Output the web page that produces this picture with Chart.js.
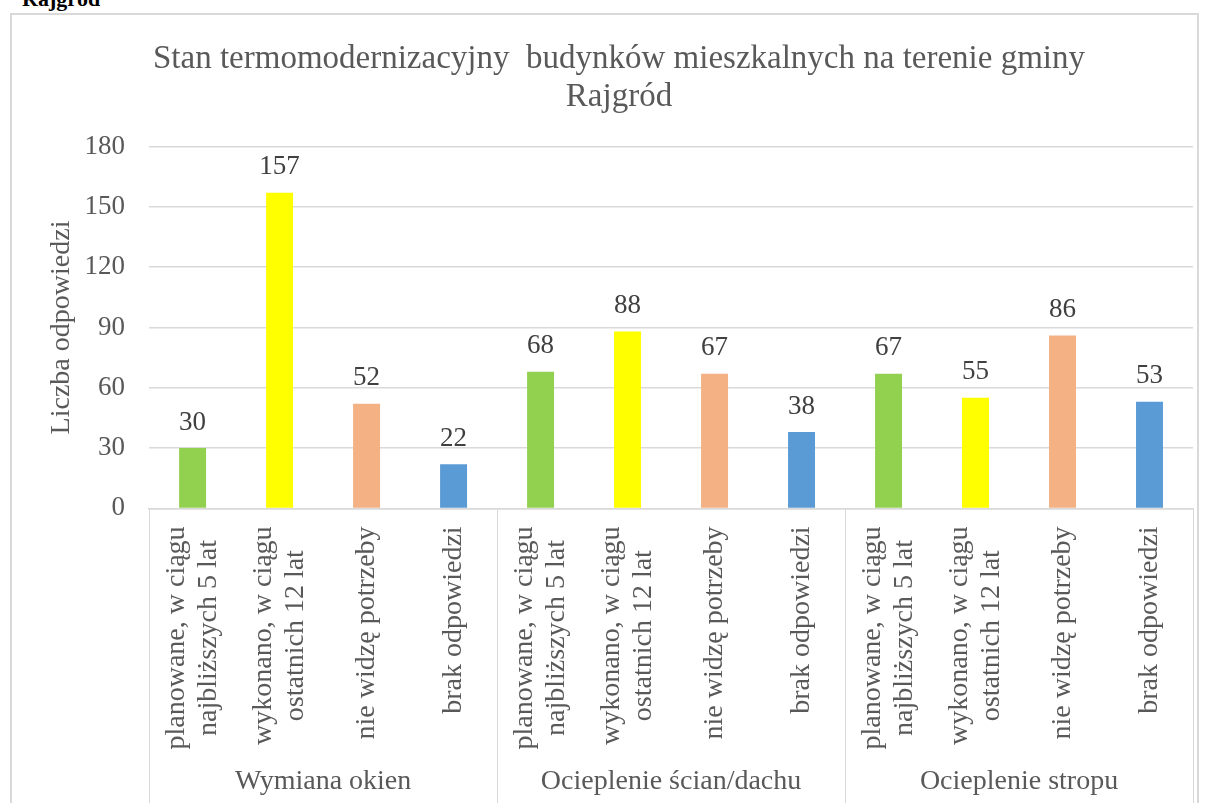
<!DOCTYPE html>
<html>
<head>
<meta charset="utf-8">
<script src="https://cdn.jsdelivr.net/npm/chart.js@4"></script>
<style>
  html, body { margin: 0; padding: 0; background: #fff; overflow: hidden; }
  body { width: 1207px; height: 803px; position: relative; font-family: "Liberation Serif", serif; }
  #head { position: absolute; left: 22px; top: -14px; font: bold 22px "Liberation Serif", serif; color: #000; }
  #preload { position: absolute; left: -2000px; top: 0; font: 20px "Liberation Serif", serif; }
  #frame { position: absolute; left: 10px; top: 13px; width: 1189px; height: 800px; border: 2px solid #d9d9d9; box-sizing: border-box; }
  #wrap { position: absolute; left: 0; top: 0; width: 1185px; height: 790px; }
</style>
</head>
<body>
<div id="head">Rajgród</div>
<div id="preload">Liczba odpowiedzi ąęż 0123456789</div>
<div id="frame"><div id="wrap"><canvas id="graph"></canvas></div></div>
<script>
const groups = ['Wymiana okien', 'Ocieplenie ścian/dachu', 'Ocieplenie stropu']
const answers = [
    ['planowane, w ciągu', 'najbliższych 5 lat'],
    ['wykonano, w ciągu', 'ostatnich 12 lat'],
    'nie widzę potrzeby',
    'brak odpowiedzi'
]
const values = [30, 157, 52, 22, 68, 88, 67, 38, 67, 55, 86, 53]
const answerColors = ['#92d050', '#ffff00', '#f4b183', '#5b9bd5']
const yTicks = [0, 30, 60, 90, 120, 150, 180]

const serif = '"Liberation Serif", serif'
Chart.defaults.font.family = serif
const labels = groups.flatMap(() => answers)
const colors = groups.flatMap(() => answerColors)

// value above every bar
const valueLabels = {
    id: 'valueLabels',
    afterDatasetsDraw(chart) {
        const ctx = chart.ctx
        const meta = chart.getDatasetMeta(0)
        ctx.save()
        ctx.font = '27px ' + serif
        ctx.fillStyle = '#404040'
        ctx.textAlign = 'center'
        ctx.textBaseline = 'bottom'
        meta.data.forEach((bar, i) => {
            ctx.fillText(values[i], bar.x, bar.y - 12)
        })
        ctx.restore()
    }
}

// vertical answer labels, lines centred on each other, block hanging from the axis
const answerLabels = {
    id: 'answerLabels',
    afterDraw(chart) {
        const ctx = chart.ctx
        const x = chart.scales.x
        ctx.save()
        ctx.font = '28px ' + serif
        ctx.fillStyle = '#595959'
        ctx.textAlign = 'center'
        ctx.textBaseline = 'middle'
        labels.forEach((label, i) => {
            const lines = [].concat(label)
            const block = Math.max(...lines.map(l => ctx.measureText(l).width))
            ctx.save()
            ctx.translate(x.getPixelForTick(i), x.top + 18 + block / 2)
            ctx.rotate(-Math.PI / 2)
            lines.forEach((line, k) => ctx.fillText(line, 0, (k - (lines.length - 1) / 2) * 32))
            ctx.restore()
        })
        ctx.restore()
    }
}

// separators between the groups, under the plot
const groupLines = {
    id: 'groupLines',
    afterDraw(chart) {
        const ctx = chart.ctx
        const x = chart.scales.x
        ctx.save()
        ctx.strokeStyle = '#d9d9d9'
        ctx.lineWidth = 1
        for (let g = 0; g <= groups.length; g++) {
            const px = Math.round(x.getPixelForValue(g * answers.length - 0.5)) + 0.5
            ctx.beginPath()
            ctx.moveTo(px, chart.chartArea.bottom)
            ctx.lineTo(px, chart.height)
            ctx.stroke()
        }
        ctx.restore()
    }
}

const draw = () => new Chart(document.getElementById('graph'), {
    type: 'bar',
    data: {
        labels: labels,
        datasets: [{
            label: 'Liczba odpowiedzi',
            data: values,
            backgroundColor: colors,
            barPercentage: 0.31,
            categoryPercentage: 1
        }]
    },
    options: {
        responsive: true,
        maintainAspectRatio: false,
        animation: false,
        layout: { padding: { left: 33, right: 4, top: 26, bottom: 3 } },
        plugins: {
            legend: { display: false },
            tooltip: { enabled: false },
            title: {
                display: true,
                text: ['Stan termomodernizacyjny  budynków mieszkalnych na terenie gminy', 'Rajgród'],
                color: '#595959',
                font: { family: serif, size: 33, weight: 'normal', lineHeight: 1.13 },
                padding: { top: 0, bottom: 31 }
            }
        },
        scales: {
            y: {
                min: 0,
                max: 180,
                afterBuildTicks: axis => { axis.ticks = yTicks.map(v => ({ value: v })) },
                afterFit: scale => { scale.width -= 24 },
                ticks: { color: '#595959', font: { family: serif, size: 27 }, padding: 24 },
                grid: { color: '#d9d9d9', lineWidth: 1.5, drawTicks: false },
                border: { display: false },
                title: {
                    display: true,
                    text: 'Liczba odpowiedzi',
                    color: '#595959',
                    font: { family: serif, size: 28 },
                    padding: { top: 0, bottom: 6 }
                }
            },
            x: {
                ticks: { display: false },
                grid: { display: false },
                border: { color: '#d9d9d9', width: 1.5 },
                afterFit: scale => { scale.height = 244 }
            },
            x2: {
                type: 'category',
                labels: groups,
                position: 'bottom',
                offset: true,
                ticks: { color: '#595959', font: { family: serif, size: 28 }, padding: 4 },
                grid: { display: false },
                border: { display: false }
            }
        }
    },
    plugins: [valueLabels, answerLabels, groupLines]
})

document.fonts.load('28px "Liberation Serif"').then(draw, draw)
</script>
</body>
</html>
